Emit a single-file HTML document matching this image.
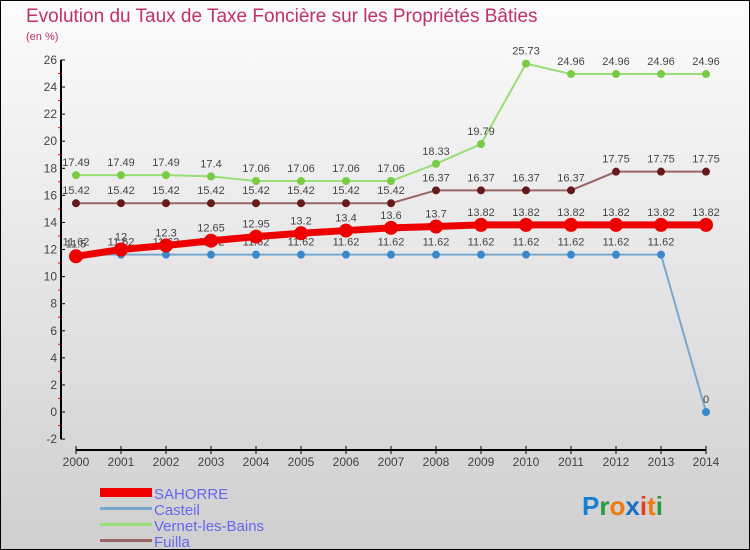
<!DOCTYPE html>
<html><head><meta charset="utf-8"><style>
body{margin:0}
svg{display:block;font-family:"Liberation Sans",sans-serif}
</style></head><body>
<svg id="c" width="750" height="550">
<defs><linearGradient id="bg" x1="0" y1="0" x2="0" y2="1"><stop offset="0" stop-color="#fcfcfc"/><stop offset="1" stop-color="#cfcfcf"/></linearGradient></defs>
<rect x="0.5" y="0.5" width="749" height="549" fill="url(#bg)" stroke="#000"/>
<text x="26" y="22" font-size="19" fill="#c0306a">Evolution du Taux de Taxe Foncière sur les Propriétés Bâties</text>
<text x="26" y="40" font-size="11" fill="#c0306a">(en %)</text>
<g id="axes"></g><g id="series"></g>
<g>
<rect x="100" y="488" width="52" height="9" fill="#e00"/>
<text x="154" y="499" font-size="15" fill="#6666ee">SAHORRE</text>
<rect x="100" y="507" width="52" height="3" fill="#7aa8cc"/>
<text x="154" y="515" font-size="15" fill="#6666ee">Casteil</text>
<rect x="100" y="523" width="52" height="3" fill="#99dd77"/>
<text x="154" y="531" font-size="15" fill="#6666ee">Vernet-les-Bains</text>
<rect x="100" y="539" width="52" height="3" fill="#996666"/>
<text x="154" y="547" font-size="15" fill="#6666ee">Fuilla</text>
</g>
<text x="582" y="515" font-size="26" font-weight="bold"><tspan fill="#1a7fd0">P</tspan><tspan fill="#2a9a3a">r</tspan><tspan fill="#f07a10">o</tspan><tspan fill="#1a6fc0">x</tspan><tspan fill="#e04020">i</tspan><tspan fill="#f07a10">t</tspan><tspan fill="#2a9a3a">i</tspan></text>
</svg>
<script>
const years=[2000,2001,2002,2003,2004,2005,2006,2007,2008,2009,2010,2011,2012,2013,2014];
const sahorre=[11.5,12,12.3,12.65,12.95,13.2,13.4,13.6,13.7,13.82,13.82,13.82,13.82,13.82,13.82];
const casteil=[11.62,11.62,11.62,11.62,11.62,11.62,11.62,11.62,11.62,11.62,11.62,11.62,11.62,11.62,0];
const vernet=[17.49,17.49,17.49,17.4,17.06,17.06,17.06,17.06,18.33,19.79,25.73,24.96,24.96,24.96,24.96];
const fuilla=[15.42,15.42,15.42,15.42,15.42,15.42,15.42,15.42,16.37,16.37,16.37,16.37,17.75,17.75,17.75];
const yTicks=[-2,0,2,4,6,8,10,12,14,16,18,20,22,24,26];
const NS="http://www.w3.org/2000/svg";
const X=i=>76+i*45, Y=v=>412-v*13.54;
function mk(p,t,a){const e=document.createElementNS(NS,t);for(const k in a)e.setAttribute(k,a[k]);p.appendChild(e);return e;}
const ax=document.getElementById('axes');
let e=mk(ax,'line',{x1:61,y1:Y(26),x2:61,y2:Y(-2),stroke:'#000','stroke-width':2});


e=mk(ax,'line',{x1:X(0),y1:450,x2:X(14),y2:450,stroke:'#000','stroke-width':2});


yTicks.forEach((v,k)=>{
 mk(ax,'line',{x1:61,y1:Y(v),x2:65,y2:Y(v),stroke:'#000'});
 if(k<yTicks.length-1) mk(ax,'line',{x1:58,y1:Y(v+1),x2:61,y2:Y(v+1),stroke:'#e00'});
 const t=mk(ax,'text',{x:57,y:Y(v)+4,'font-size':12,fill:'#444','text-anchor':'end'});t.textContent=v;
 
 
});
years.forEach((y,i)=>{
 mk(ax,'line',{x1:X(i),y1:446,x2:X(i),y2:454,stroke:'#000'});
 const t=mk(ax,'text',{x:X(i),y:466,'font-size':12,fill:'#444','text-anchor':'middle'});t.textContent=y;
 
 
});
const sg=document.getElementById('series');
function series(name,vals,col,dot,w,r){
 const g=mk(sg,'g',{});
 
 
 mk(g,'polyline',{points:vals.map((v,i)=>X(i)+','+Y(v)).join(' '),fill:'none',stroke:col,'stroke-width':w});
 vals.forEach((v,i)=>{
  const c=mk(g,'circle',{cx:X(i),cy:Y(v),r:r,fill:dot});
  
  
  const t=mk(g,'text',{x:X(i),y:Y(v)-9,'font-size':11,fill:'#444','text-anchor':'middle'});t.textContent=v;
  
  
 });
}
series('fuilla',fuilla,'#996666','#661a1a',2,4);
series('vernet',vernet,'#99dd77','#77cc44',2,4);
series('casteil',casteil,'#7aa8cc','#3a88cc',2,4);
series('sahorre',sahorre,'#e00','#e00',7,7);
</script>
</body></html>
